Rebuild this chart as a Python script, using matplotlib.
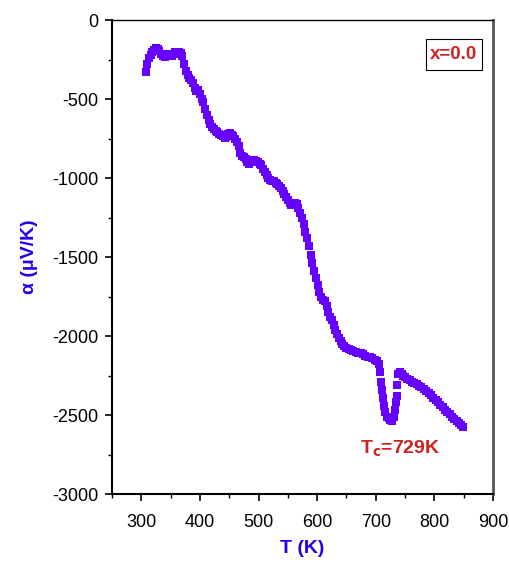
import matplotlib
matplotlib.use("Agg")
import matplotlib.pyplot as plt
from matplotlib.ticker import MultipleLocator
from matplotlib.patches import Rectangle

plt.rcParams['font.family'] = ['Liberation Sans', 'DejaVu Sans']
plt.rcParams['axes.unicode_minus'] = False

T = [308, 310, 313, 316, 319, 322, 325, 328, 331, 334, 337, 340, 343, 346, 349, 352, 355, 358,
     361, 364, 367, 370, 373, 376, 379, 382, 385, 388, 391, 394, 397, 400, 403, 406, 409, 412,
     415, 418, 421, 424, 427, 430, 433, 436, 439, 442, 445, 448, 451, 454, 457, 460, 463, 466,
     469, 472, 475, 478, 481, 484, 487, 490, 493, 496, 499, 502, 505, 508, 511, 514, 517, 520,
     523, 526, 529, 532, 535, 538, 541, 544, 547, 550, 553, 556, 559, 562, 565, 568, 571, 574,
     577, 580, 583, 586, 589, 592, 595, 598, 601, 604, 607, 610, 613, 616, 619, 622, 625, 628,
     631, 634, 637, 640, 643, 646, 650, 654, 658, 662, 666, 670, 674, 678, 682, 686, 690, 694,
     698, 702, 705, 707, 709, 710, 712, 714, 716, 719, 722, 725, 728, 731, 733, 735, 736, 737,
     738, 741, 744, 747, 750, 754, 758, 762, 766, 770, 774, 778, 782, 786, 790, 794, 798, 802,
     806, 810, 814, 818, 822, 826, 830, 834, 838, 842, 846, 849]
alpha = [-330, -280, -240, -220, -200, -190, -180, -185, -195, -215, -230, -235, -225, -215,
         -225, -230, -215, -205, -200, -200, -210, -230, -280, -320, -350, -370, -380, -400,
         -430, -450, -440, -470, -500, -520, -560, -600, -630, -660, -680, -690, -700, -710,
         -720, -730, -735, -745, -740, -720, -715, -725, -735, -750, -770, -800, -840, -860,
         -870, -880, -900, -910, -900, -890, -885, -890, -900, -910, -920, -940, -960, -980,
         -1000, -1010, -1020, -1020, -1030, -1040, -1050, -1060, -1080, -1100, -1120, -1140,
         -1160, -1170, -1160, -1155, -1165, -1190, -1220, -1250, -1290, -1340, -1380, -1430,
         -1490, -1540, -1590, -1630, -1680, -1720, -1750, -1770, -1780, -1810, -1850, -1880,
         -1900, -1930, -1960, -1990, -2010, -2030, -2050, -2060, -2075, -2085, -2090, -2095,
         -2100, -2105, -2110, -2115, -2125, -2130, -2135, -2140, -2150, -2160, -2180, -2230,
         -2290, -2340, -2390, -2440, -2480, -2510, -2520, -2530, -2535, -2510, -2470, -2420,
         -2380, -2310, -2240, -2230, -2240, -2250, -2260, -2270, -2280, -2290, -2295, -2305,
         -2315, -2325, -2335, -2345, -2360, -2375, -2390, -2405, -2420, -2435, -2450, -2465,
         -2480, -2495, -2510, -2525, -2540, -2550, -2565, -2575]

fig = plt.figure(figsize=(5.09, 5.64), dpi=100)
ax = fig.add_axes([0.22, 0.124, 0.7486, 0.8405])
ax.plot(T, alpha, linestyle='none', marker='s', markersize=5.2, color='#6600FF',
        markeredgewidth=0)

ax.set_xlim(250, 900)
ax.set_ylim(-3000, 0)
ax.xaxis.set_major_locator(MultipleLocator(100))
ax.xaxis.set_minor_locator(MultipleLocator(50))
ax.yaxis.set_major_locator(MultipleLocator(500))
ax.yaxis.set_minor_locator(MultipleLocator(250))
ax.tick_params(which='both', direction='out', top=False, right=False, labelsize=13)
ax.tick_params(which='major', length=5, width=1.2, pad=5)
ax.tick_params(which='minor', length=3, width=1.0)
ax.tick_params(axis='x', which='major', pad=9)

for s in ['left', 'bottom']:
    ax.spines[s].set_linewidth(1.5)
ax.spines['top'].set_linewidth(1.0)
ax.spines['right'].set_linewidth(2.0)
ax.spines['right'].set_color('#555555')

ax.set_xlabel('T (K)', fontsize=14, fontweight='bold', color='#2200EE', labelpad=7)
ax.set_ylabel('α (μV/K)', fontsize=14, fontweight='bold', color='#2200EE', labelpad=10)

ax.text(742, -2715, r'T$_\mathbf{c}$=729K', fontsize=14, fontweight='bold', color='#CC2222',
        ha='center', va='center')
ax.add_patch(Rectangle((0.824, 0.895), 0.147, 0.065, transform=ax.transAxes,
                       facecolor='white', edgecolor='black', linewidth=0.8, zorder=3))
ax.text(0.8975, 0.927, 'x=0.0', transform=ax.transAxes, fontsize=13.5, fontweight='bold',
        color='#CC2222', ha='center', va='center', zorder=4)

fig.savefig('out.png', dpi=100)
